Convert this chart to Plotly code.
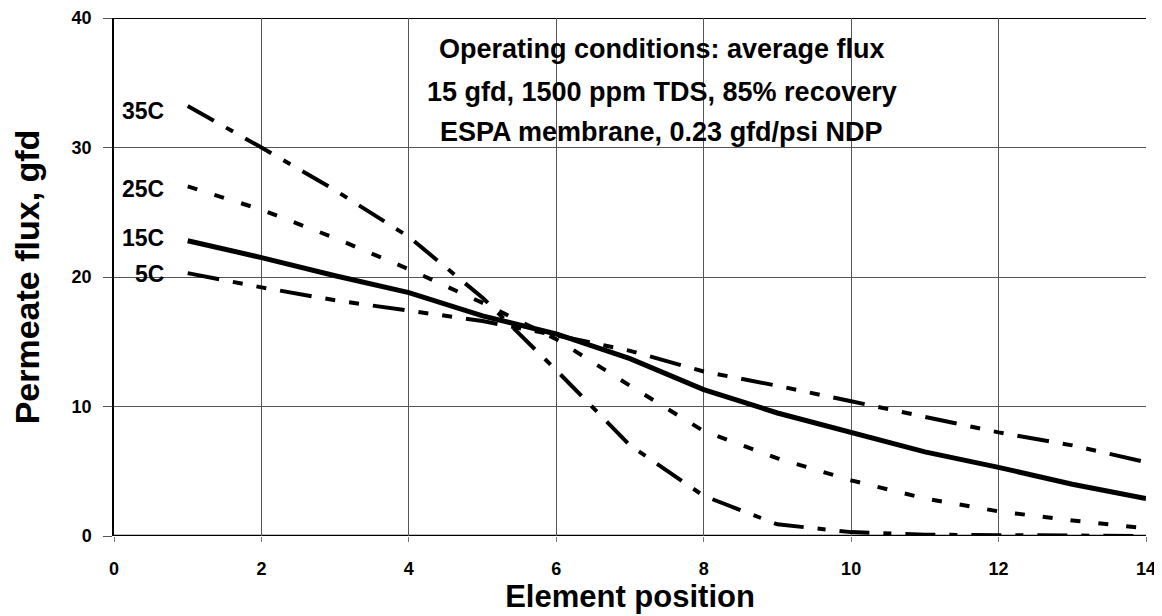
import plotly.graph_objects as go

positions = list(range(1, 15))
flux_5c = [20.3, 19.2, 18.2, 17.4, 16.6, 15.5, 14.3, 12.7, 11.6, 10.4, 9.2, 8.0, 7.0, 5.7]
flux_15c = [22.8, 21.5, 20.1, 18.8, 17.0, 15.6, 13.7, 11.3, 9.5, 7.95, 6.5, 5.3, 4.0, 2.9]
flux_25c = [27.0, 25.2, 23.0, 20.6, 18.0, 15.2, 11.6, 8.1, 6.0, 4.3, 2.9, 1.9, 1.2, 0.6]
flux_35c = [33.2, 30.0, 26.7, 23.1, 18.4, 12.8, 7.0, 3.1, 0.9, 0.3, 0.1, 0.05, 0.0, 0.0]

series_names = ["5C", "15C", "25C", "35C"]
series_label_y = [20.2, 23.0, 26.8, 32.8]

x_ticks = [0, 2, 4, 6, 8, 10, 12, 14]
y_ticks = [0, 10, 20, 30, 40]

notes = [
    "Operating conditions: average flux",
    "15 gfd, 1500 ppm TDS, 85% recovery",
    "ESPA membrane, 0.23 gfd/psi NDP",
]
notes_y = [37.6, 34.3, 31.2]

FONT = "Arial, Liberation Sans, sans-serif"

fig = go.Figure()
styles = {
    "5C": dict(dash="32px,14px,10px,14px,10px,14px", width=4),
    "15C": dict(dash="solid", width=5),
    "25C": dict(dash="10px,18px", width=4),
    "35C": dict(dash="30px,14px,8px,14px", width=4),
}
data = {"5C": flux_5c, "15C": flux_15c, "25C": flux_25c, "35C": flux_35c}
for name in series_names:
    fig.add_trace(go.Scatter(
        x=positions, y=data[name], mode="lines", name=name,
        line=dict(color="black", **styles[name]),
        showlegend=False,
    ))

for name, yv in zip(series_names, series_label_y):
    fig.add_annotation(
        x=0.7, y=yv, text="<b>%s</b>" % name, showarrow=False,
        xanchor="right", yanchor="middle",
        font=dict(family=FONT, size=23, color="black"),
    )

for line, yv in zip(notes, notes_y):
    fig.add_annotation(
        x=7.43, y=yv, text="<b>%s</b>" % line, showarrow=False,
        xanchor="center", yanchor="middle",
        font=dict(family=FONT, size=27, color="black"),
    )

fig.update_layout(
    width=1154, height=608,
    margin=dict(l=106, r=16, t=10, b=80, autoexpand=False),
    paper_bgcolor="white", plot_bgcolor="white",
    font=dict(family=FONT, color="black"),
)
fig.update_xaxes(
    range=[0, 14], tickvals=x_ticks, ticktext=["<b>%d</b>" % v for v in x_ticks],
    tickfont=dict(family=FONT, size=18, color="black"),
    showgrid=True, gridcolor="#555555", gridwidth=1,
    showline=False, zeroline=False, automargin=False,
    ticks="outside", ticklen=5, tickcolor="#777777", ticklabelstandoff=11,
    title=dict(text="<b>Element position</b>", font=dict(family=FONT, size=31, color="black"), standoff=4),
)
fig.update_yaxes(
    range=[0, 40], tickvals=y_ticks, ticktext=["<b>%d</b>" % v for v in y_ticks],
    tickfont=dict(family=FONT, size=18, color="black"),
    showgrid=True, gridcolor="#555555", gridwidth=1,
    showline=True, linecolor="black", linewidth=1.5, zeroline=False, automargin=False,
    ticks="outside", ticklen=9, tickcolor="#555555", ticklabelstandoff=8,
    title=dict(text="<b>Permeate flux, gfd</b>", font=dict(family=FONT, size=34, color="black"), standoff=28),
)
fig.add_shape(type="line", xref="x", yref="y", x0=0, x1=14, y0=0, y1=0,
              line=dict(color="black", width=2.5), layer="below")
fig.add_shape(type="line", xref="x", yref="y", x0=0, x1=14, y0=40, y1=40,
              line=dict(color="black", width=2), layer="below")

fig.write_html("out.html")
